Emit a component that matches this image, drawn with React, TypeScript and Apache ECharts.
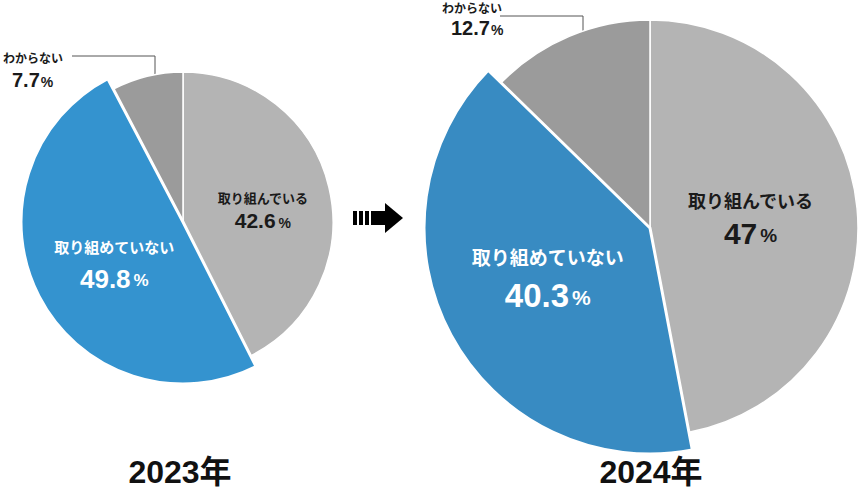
import React, { useEffect, useRef } from "react";
import * as echarts from "echarts";

const categories = ["取り組んでいる", "取り組めていない", "わからない"];
const years = ["2023年", "2024年"];
const values2023 = [42.6, 49.8, 7.7];
const values2024 = [47, 40.3, 12.7];
const colors2023 = ["#b4b4b4", "#3493cf", "#9b9b9b"];
const colors2024 = ["#b4b4b4", "#388bc2", "#9b9b9b"];

const JP = '"Noto Sans CJK JP", "Noto Sans", sans-serif';
const NUM = '"Liberation Sans", "Noto Sans CJK JP", sans-serif';

type LabelSize = {
  n: number;
  v: number;
  p: number;
  gap: number;
  color: string;
  pad: number[];
};

function makePies(
  values: number[],
  colors: string[],
  center: [number, number],
  rOuter: number,
  rBlue: number,
  grayLab: LabelSize,
  blueLab: LabelSize
) {
  const rich = (s: LabelSize) => ({
    n: { fontSize: s.n, fontWeight: "bold", fontFamily: JP, color: s.color, lineHeight: s.gap, align: "center" },
    v: { fontSize: s.v, fontWeight: "bold", fontFamily: NUM, color: s.color, lineHeight: s.v + 4 },
    p: { fontSize: s.p, fontWeight: "bold", fontFamily: NUM, color: s.color, padding: [4, 0, 0, 3] },
  });
  const fmt = (p: any) => `{n|${p.name}}\n{v|${p.value}}{p|%}`;
  const base = {
    type: "pie",
    center,
    clockwise: true,
    silent: true,
    avoidLabelOverlap: false,
    labelLine: { show: false },
    emphasis: { disabled: true },
  };
  const hidden = { opacity: 0, borderWidth: 0 };
  const total = values.reduce((a, b) => a + b, 0);
  const blueStart = 90 - (360 * values[0]) / total;
  const blueEnd = blueStart - (360 * values[1]) / total;
  const seriesA = {
    ...base,
    startAngle: 90,
    radius: rOuter,
    z: 2,
    data: categories.map((name, i) => ({
      name,
      value: values[i],
      itemStyle:
        i === 1
          ? hidden
          : { color: colors[i], borderColor: "#ffffff", borderWidth: 1.5 },
      label:
        i === 0
          ? { show: true, position: "inside", formatter: fmt, rich: rich(grayLab), padding: grayLab.pad }
          : { show: false },
    })),
  };
  const seriesB = {
    ...base,
    startAngle: blueStart,
    endAngle: blueEnd,
    radius: rBlue,
    z: 3,
    data: [
      {
        name: categories[1],
        value: values[1],
        itemStyle: { color: colors[1], borderColor: "#ffffff", borderWidth: 3 },
        label: { show: true, position: "inside", formatter: fmt, rich: rich(blueLab), padding: blueLab.pad },
      },
    ],
  };
  return [seriesA, seriesB];
}

function callout(
  name: string,
  value: number,
  textX: number,
  nameY: number,
  valueY: number,
  lineStartX: number,
  lineY: number,
  dotX: number,
  dotY: number
) {
  return [
    {
      type: "text",
      left: textX,
      top: nameY,
      style: { text: name, font: `bold 12px ${JP}`, fill: "#1a1a1a" },
    },
    {
      type: "text",
      left: textX + 9,
      top: valueY,
      style: {
        text: `{v|${value}}{p|%}`,
        rich: {
          v: { fontSize: 20, fontWeight: "bold", fontFamily: NUM, fill: "#1a1a1a" },
          p: { fontSize: 14, fontWeight: "bold", fontFamily: NUM, fill: "#1a1a1a", padding: [4, 0, 0, 1] },
        },
      },
    },
    {
      type: "polyline",
      shape: { points: [[lineStartX, lineY], [dotX, lineY], [dotX, dotY]] },
      style: { stroke: "#555", lineWidth: 1, fill: "none" },
    },
    {
      type: "circle",
      shape: { cx: dotX, cy: dotY, r: 2.5 },
      style: { fill: "#111" },
    },
  ];
}

export default function App() {
  const ref = useRef<HTMLDivElement>(null);
  useEffect(() => {
    if (!ref.current) return;
    const chart = echarts.init(ref.current, undefined, { renderer: "svg" });
    const series = [
      ...makePies(
        values2023,
        colors2023,
        [183, 222],
        150,
        162,
        { n: 13, v: 21, p: 14, gap: 22, color: "#1a1a1a", pad: [12, 0, 0, 8] },
        { n: 15, v: 26, p: 17, gap: 35, color: "#ffffff", pad: [2, 0, 0, 12] }
      ),
      ...makePies(
        values2024,
        colors2024,
        [650, 228],
        208,
        226,
        { n: 18, v: 30, p: 19, gap: 33, color: "#1a1a1a", pad: [0, 12, 2, 0] },
        { n: 19, v: 33, p: 21, gap: 42, color: "#ffffff", pad: [0, 0, 16, 0] }
      ),
    ];
    const arrow = [
      { type: "rect", shape: { x: 353, y: 211, width: 4, height: 14 }, style: { fill: "#000" } },
      { type: "rect", shape: { x: 359, y: 211, width: 4, height: 14 }, style: { fill: "#000" } },
      { type: "rect", shape: { x: 365, y: 211, width: 4, height: 14 }, style: { fill: "#000" } },
      { type: "rect", shape: { x: 371, y: 211, width: 15, height: 14 }, style: { fill: "#000" } },
      {
        type: "polygon",
        shape: { points: [[385, 203], [403, 218], [385, 233]] },
        style: { fill: "#000" },
      },
    ];
    const yearText = (text: string, cx: number) => ({
      type: "text",
      x: cx,
      y: 472,
      style: {
        text,
        font: `bold 32px ${NUM}`,
        fill: "#111",
        align: "center",
        verticalAlign: "middle",
      },
    });
    chart.setOption({
      animation: false,
      backgroundColor: "#ffffff",
      series,
      graphic: [
        ...callout(categories[2], values2023[2], 3, 51, 70, 72, 56, 155, 88),
        ...callout(categories[2], values2024[2], 442, 1, 18, 500, 16, 583, 46),
        ...arrow,
        yearText(years[0], 180),
        yearText(years[1], 651),
      ],
    });
    return () => chart.dispose();
  }, []);
  return (
    <div
      ref={ref}
      style={{ position: "fixed", left: 0, top: 0, width: 858, height: 489 }}
    />
  );
}
